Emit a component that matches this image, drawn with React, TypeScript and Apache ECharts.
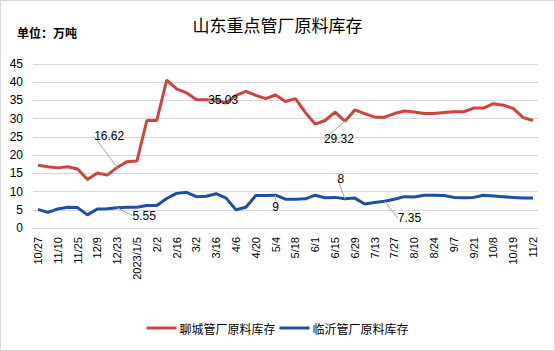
import React, { useEffect, useRef } from "react";
import * as echarts from "echarts";

const categories = [
  "10/27", "11/3", "11/10", "11/17", "11/25", "12/2", "12/9", "12/16", "12/23", "12/30",
  "2023/1/5", "1/12", "2/2", "2/9", "2/16", "2/23", "3/2", "3/9", "3/16", "3/23",
  "4/6", "4/13", "4/20", "4/27", "5/4", "5/11", "5/18", "5/25", "6/1", "6/8",
  "6/15", "6/21", "6/29", "7/6", "7/13", "7/20", "7/27", "8/3", "8/10", "8/17",
  "8/24", "8/31", "9/7", "9/14", "9/21", "9/28", "10/8", "10/12", "10/19", "10/26",
  "11/2",
];

const liaocheng = [
  17.2, 16.8, 16.5, 16.8, 16.2, 13.3, 15.1, 14.5, 16.62, 18.2,
  18.4, 29.5, 29.5, 40.6, 38.2, 37.1, 35.2, 35.2, 35.03, 34.3,
  36.4, 37.5, 36.4, 35.5, 36.5, 34.7, 35.5, 31.7, 28.5, 29.5,
  31.8, 29.32, 32.4, 31.4, 30.4, 30.4, 31.4, 32.1, 31.8, 31.4,
  31.4, 31.7, 31.9, 31.9, 32.9, 32.9, 34.1, 33.7, 32.8, 30.3,
  29.5,
];

const linyi = [
  5.1, 4.3, 5.2, 5.7, 5.6, 3.6, 5.2, 5.3, 5.55, 5.7,
  5.7, 6.2, 6.2, 8.1, 9.5, 9.8, 8.6, 8.7, 9.4, 8.2,
  5.0, 5.7, 8.9, 8.9, 9, 7.9, 7.9, 8.0, 9.0, 8.3,
  8.4, 8, 8.2, 6.6, 7.0, 7.35, 7.9, 8.6, 8.5, 9.0,
  9.0, 8.9, 8.4, 8.3, 8.4, 9.0, 8.8, 8.6, 8.4, 8.2,
  8.2,
];

const yTicks = [0, 5, 10, 15, 20, 25, 30, 35, 40, 45];

const liaochengLabelIdx = [8, 18, 31];
const linyiLabelIdx = [8, 24, 31, 35];

// label offsets (styling only), keyed by series then data index
const labelOffsets: Record<string, [number, number]> = {
  "0-8": [-8, -31],
  "0-18": [7, 0],
  "0-31": [-6, 18],
  "1-8": [27, 8],
  "1-24": [0, 12],
  "1-31": [-4, -20],
  "1-35": [25, 17],
};

const FONT = '"Liberation Sans", Arial, "Noto Sans CJK SC", sans-serif';

function buildData(values: number[], labelIdx: number[]) {
  return values.map((v, i) =>
    labelIdx.includes(i)
      ? {
          value: v,
          label: { show: true },
          labelLine: { show: true },
        }
      : { value: v, label: { show: false } }
  );
}

export default function App() {
  const ref = useRef<HTMLDivElement>(null);

  useEffect(() => {
    document.body.style.margin = "0";
    if (!ref.current) return;
    const chart = echarts.init(ref.current, undefined, { renderer: "svg" });
    const option = {
      animation: false,
      backgroundColor: "#fff",
      textStyle: { fontFamily: FONT },
      title: {
        text: "山东重点管厂原料库存",
        left: "center",
        top: 10,
        textStyle: {
          fontSize: 17,
          fontWeight: "normal",
          color: "#000",
          fontFamily: '"Noto Sans CJK SC", sans-serif',
        },
      },
      graphic: [
        {
          type: "text",
          left: 16,
          top: 25,
          style: {
            text: "单位：万吨",
            fontSize: 12,
            fontWeight: "bold",
            fill: "#000",
            fontFamily: '"Noto Sans CJK SC", sans-serif',
          },
        },
      ],
      legend: {
        bottom: 11,
        left: "center",
        itemWidth: 30,
        itemHeight: 3,
        itemGap: 4,
        icon: "rect",
        textStyle: {
          fontSize: 12,
          color: "#000",
          padding: [0, 0, 0, -2],
          fontFamily: '"Noto Sans CJK SC", sans-serif',
        },
        data: ["聊城管厂原料库存", "临沂管厂原料库存"],
      },
      grid: { left: 32, right: 16, top: 63, bottom: 122 },
      xAxis: {
        type: "category",
        data: categories,
        boundaryGap: true,
        axisLine: { show: true, lineStyle: { color: "#d9d9d9", width: 1 } },
        axisTick: { show: false },
        axisLabel: {
          interval: 0,
          rotate: 90,
          hideOverlap: false,
          showMinLabel: true,
          showMaxLabel: true,
          fontSize: 11,
          color: "#000",
          margin: 9,
          fontFamily: FONT,
          formatter: (value: string, idx: number) => (idx % 2 === 0 ? value : ""),
        },
      },
      yAxis: {
        type: "value",
        min: yTicks[0],
        max: yTicks[yTicks.length - 1],
        interval: 5,
        axisLine: { show: false },
        axisTick: { show: false },
        axisLabel: { fontSize: 12, color: "#000", margin: 10, fontFamily: FONT },
        splitLine: { lineStyle: { color: "#d9d9d9", width: 1 } },
      },
      series: [
        {
          name: "聊城管厂原料库存",
          type: "line",
          data: buildData(liaocheng, liaochengLabelIdx),
          symbol: "circle",
          symbolSize: 0,
          showSymbol: true,
          itemStyle: { color: "#d0433d" },
          lineStyle: { color: "#d0433d", width: 3 },
          label: {
            position: "inside",
            fontSize: 12,
            color: "#000",
            fontFamily: FONT,
            formatter: (p: any) => String(p.value),
          },
          labelLine: { lineStyle: { color: "#a6a6a6", width: 1 } },
          labelLayout: (params: any) => {
            const o = labelOffsets[`0-${params.dataIndex}`] || [0, 0];
            return { dx: o[0], dy: o[1] };
          },
          z: 3,
        },
        {
          name: "临沂管厂原料库存",
          type: "line",
          data: buildData(linyi, linyiLabelIdx),
          symbol: "circle",
          symbolSize: 0,
          showSymbol: true,
          itemStyle: { color: "#1f4ea3" },
          lineStyle: { color: "#1f4ea3", width: 3 },
          label: {
            position: "inside",
            fontSize: 12,
            color: "#000",
            fontFamily: FONT,
            formatter: (p: any) => String(p.value),
          },
          labelLine: { lineStyle: { color: "#a6a6a6", width: 1 } },
          labelLayout: (params: any) => {
            const o = labelOffsets[`1-${params.dataIndex}`] || [0, 0];
            return { dx: o[0], dy: o[1] };
          },
          z: 3,
        },
      ],
    };
    chart.setOption(option as any);
    return () => chart.dispose();
  }, []);

  return (
    <div
      style={{
        position: "absolute",
        left: 0,
        top: 0,
        width: 555,
        height: 351,
        border: "1px solid #d9d9d9",
        boxSizing: "border-box",
        background: "#fff",
      }}
    >
      <div ref={ref} style={{ width: 553, height: 349 }} />
    </div>
  );
}
